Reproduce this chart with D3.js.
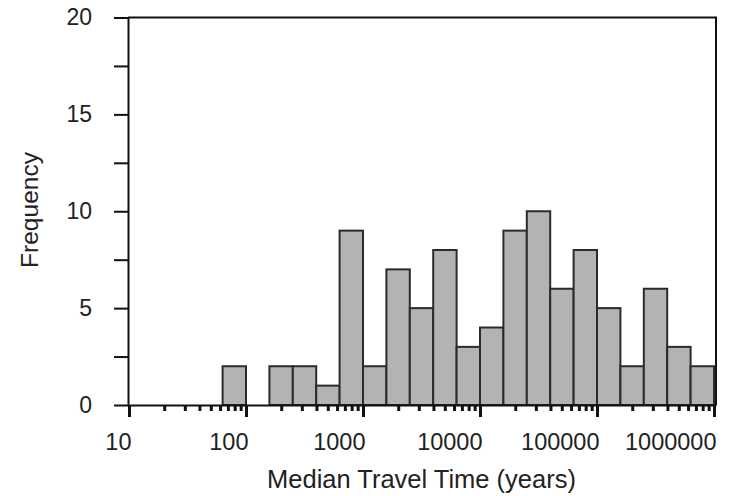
<!DOCTYPE html>
<html>
<head>
<meta charset="utf-8">
<script src="https://cdn.jsdelivr.net/npm/d3@7"></script>
<style>
  body { margin: 0; background: #fff; }
  svg { display: block; font-family: "Liberation Sans", Arial, sans-serif; }
</style>
</head>
<body>
<svg id="chart" width="732" height="496"></svg>
<script>
// histogram bins, lower edge as log10(years); every bin is 0.2 decades wide
const binLogStart = [1.8, 2.0, 2.2, 2.4, 2.6, 2.8, 3.0, 3.2, 3.4, 3.6, 3.8,
                     4.0, 4.2, 4.4, 4.6, 4.8, 5.0, 5.2, 5.4, 5.6, 5.8];
const binLogWidth = 0.2;
const counts = [2, 0, 2, 2, 1, 9, 2, 7, 5, 8, 3,
                4, 9, 10, 6, 8, 5, 2, 6, 3, 2];

const xMajorTicks = [10, 100, 1000, 10000, 100000, 1000000];
const xTickLabels = ["10", "100", "1000", "10000", "100000", "1000000"];
const yTicks = [0, 2.5, 5, 7.5, 10, 12.5, 15, 17.5, 20];
const yTickLabels = ["0", "", "5", "", "10", "", "15", "", "20"];

const xTitle = "Median Travel Time (years)";
const yTitle = "Frequency";

const plotLeft = 129, plotRight = 716, plotTop = 17.5, plotBottom = 405;

const svg = d3.select("#chart");

const x = d3.scaleLog().domain([10, Math.pow(10, 6.017)]).range([plotLeft, plotRight]);
const y = d3.scaleLinear().domain([0, 20]).range([plotBottom, plotTop]);

const bins = binLogStart.map((s, i) => ({
    x0: Math.pow(10, s),
    x1: Math.pow(10, s + binLogWidth),
    n: counts[i]
})).filter(d => d.n > 0);

// bars
svg.append("g")
    .selectAll("rect")
    .data(bins)
    .join("rect")
    .attr("x", d => x(d.x0))
    .attr("y", d => y(d.n))
    .attr("width", d => x(d.x1) - x(d.x0))
    .attr("height", d => y(0) - y(d.n))
    .attr("fill", "#b3b3b3")
    .attr("stroke", "#2b2b2b")
    .attr("stroke-width", 2);

// frame: top + right
svg.append("path")
    .attr("d", `M${plotLeft - 1},${plotTop}H${plotRight}V${plotBottom}`)
    .attr("fill", "none")
    .attr("stroke", "#111")
    .attr("stroke-width", 2);

// minor log ticks
const minorTicks = x.ticks().filter(v => xMajorTicks.indexOf(v) < 0);
svg.append("g")
    .attr("transform", `translate(0,${plotBottom})`)
    .call(d3.axisBottom(x).tickValues(minorTicks).tickSize(6).tickFormat(""))
    .call(g => g.select(".domain").remove())
    .call(g => g.selectAll(".tick line").attr("stroke", "#111").attr("stroke-width", 3));

// x axis
const xAxis = svg.append("g")
    .attr("transform", `translate(0,${plotBottom})`)
    .call(d3.axisBottom(x).tickValues(xMajorTicks).tickSize(12).tickSizeOuter(0)
        .tickFormat((d, i) => xTickLabels[i]));
xAxis.select(".domain").attr("stroke", "#111").attr("stroke-width", 2);
xAxis.selectAll(".tick line").attr("stroke", "#111").attr("stroke-width", 3);
xAxis.selectAll(".tick text")
    .attr("text-anchor", "end")
    .attr("x", 2)
    .attr("y", 28)
    .attr("dy", "0.71em")
    .attr("fill", "#222")
    .style("font-size", "23.5px");

// y axis
const yAxis = svg.append("g")
    .attr("transform", `translate(${plotLeft - 1},0)`)
    .call(d3.axisLeft(y).tickValues(yTicks).tickSize(14).tickPadding(22).tickSizeOuter(0)
        .tickFormat((d, i) => yTickLabels[i]));
yAxis.select(".domain").attr("stroke", "#111").attr("stroke-width", 2);
yAxis.selectAll(".tick line").attr("stroke", "#111").attr("stroke-width", 2);
yAxis.selectAll(".tick text")
    .attr("fill", "#222")
    .style("font-size", "23px");

// titles
svg.append("text")
    .attr("x", (plotLeft + x(1000000)) / 2)
    .attr("y", 488)
    .attr("text-anchor", "middle")
    .attr("fill", "#222")
    .style("font-size", "25.5px")
    .text(xTitle);

svg.append("text")
    .attr("transform", "translate(37.5,210) rotate(-90)")
    .attr("text-anchor", "middle")
    .attr("fill", "#222")
    .style("font-size", "24.5px")
    .text(yTitle);
</script>
</body>
</html>
